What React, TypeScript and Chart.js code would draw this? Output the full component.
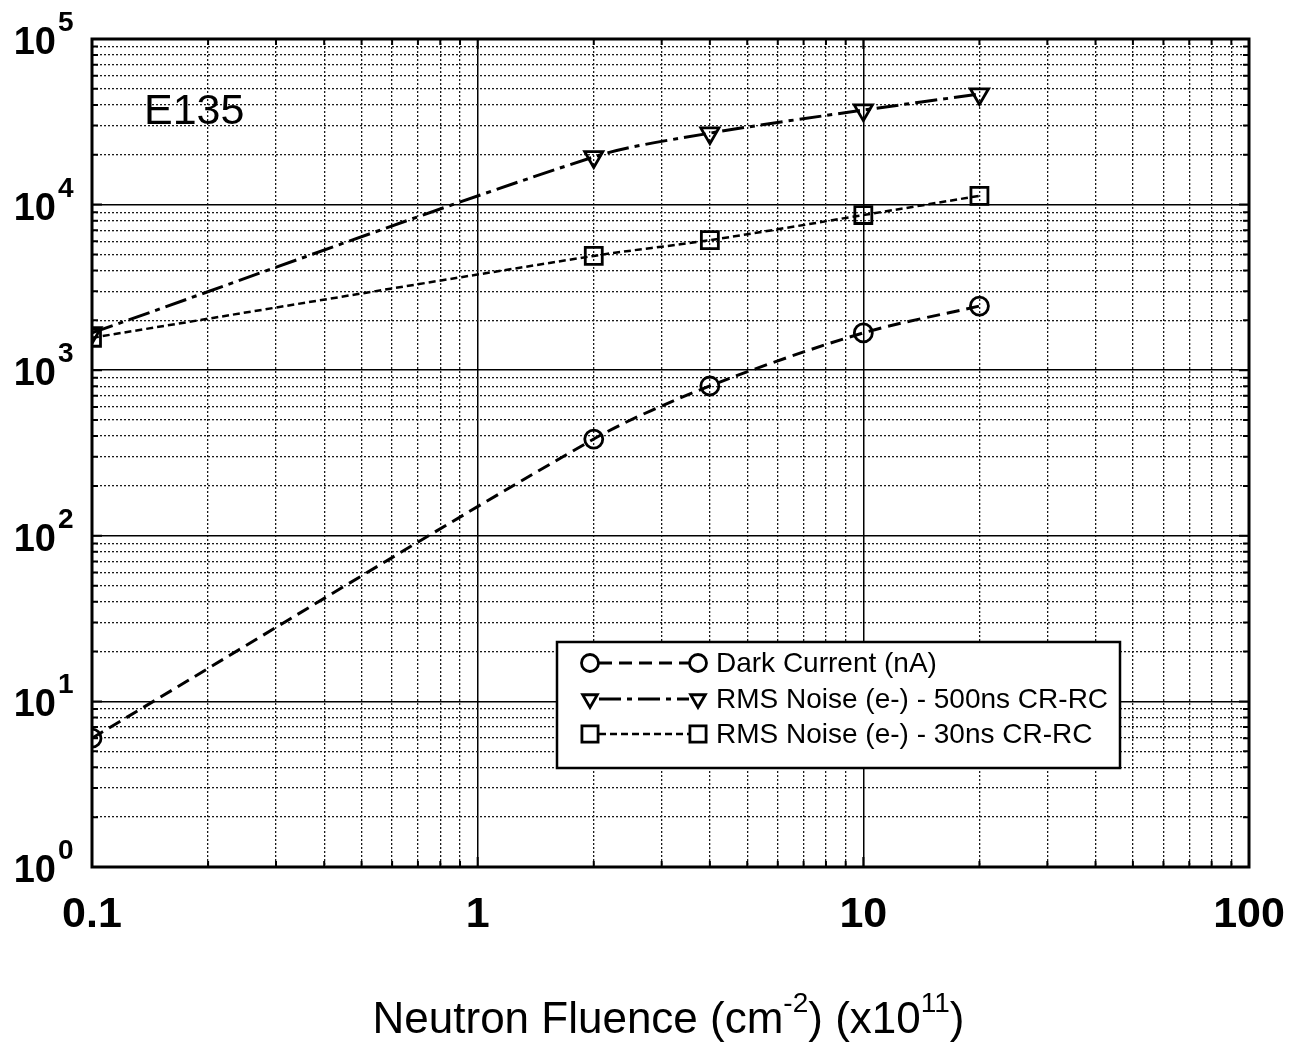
import { useEffect, useRef } from "react";
import { Chart, registerables } from "chart.js";

Chart.register(...registerables);

// Neutron fluence in units of 1e11 cm^-2
const fluence = [0.1, 2, 4, 10, 20];
const darkCurrent = [6, 384, 803, 1680, 2440];
const noise500ns = [1680, 19400, 27000, 37200, 46500];
const noise30ns = [1570, 4900, 6100, 8650, 11300];

const seriesLabels = [
  "Dark Current (nA)",
  "RMS Noise (e-) - 500ns CR-RC",
  "RMS Noise (e-) - 30ns CR-RC",
];
const xDecades = [0.1, 1, 10, 100];
const xTickLabels = ["0.1", "1", "10", "100"];
const yExponents = [0, 1, 2, 3, 4, 5];
const sampleName = "E135";

const FONT = "'Liberation Sans', Arial, Helvetica, sans-serif";

function logTicks(minExp: number, maxExp: number) {
  const out: { value: number }[] = [];
  for (let e = minExp; e < maxExp; e++) {
    for (let m = 1; m < 10; m++) out.push({ value: m * Math.pow(10, e) });
  }
  out.push({ value: Math.pow(10, maxExp) });
  return out;
}

function isDecade(v: number) {
  const l = Math.log10(v);
  return Math.abs(l - Math.round(l)) < 1e-9;
}

type Part = { text: string; sup?: boolean };

// draws a run of text with optional superscript pieces
function drawRich(
  ctx: CanvasRenderingContext2D,
  parts: Part[],
  x: number,
  y: number,
  align: "left" | "center",
  mainFont: string,
  supFont: string,
  supRise: number
) {
  ctx.textAlign = "left";
  ctx.textBaseline = "alphabetic";
  let total = 0;
  for (const p of parts) {
    ctx.font = p.sup ? supFont : mainFont;
    total += ctx.measureText(p.text).width;
  }
  let cx = align === "center" ? x - total / 2 : x;
  for (const p of parts) {
    ctx.font = p.sup ? supFont : mainFont;
    ctx.fillText(p.text, cx, p.sup ? y - supRise : y);
    cx += ctx.measureText(p.text).width;
  }
}

function drawMarker(
  ctx: CanvasRenderingContext2D,
  style: string,
  x: number,
  y: number,
  r: number
) {
  ctx.beginPath();
  if (style === "circle") {
    ctx.arc(x, y, r, 0, Math.PI * 2);
  } else if (style === "triangle") {
    // apex pointing down
    const h = r * 1.5;
    const w = r * 1.732;
    ctx.moveTo(x - w / 2, y - h / 3);
    ctx.lineTo(x + w / 2, y - h / 3);
    ctx.lineTo(x, y + (2 * h) / 3);
    ctx.closePath();
  } else {
    ctx.rect(x - r * 0.95, y - r * 0.95, r * 1.9, r * 1.9);
  }
  ctx.stroke();
}

const frameAndText = {
  id: "frameAndText",
  afterDraw(chart: any) {
    const ctx: CanvasRenderingContext2D = chart.ctx;
    const { left, right, top, bottom } = chart.chartArea;
    const xs = chart.scales.x;
    const ys = chart.scales.y;
    ctx.save();
    ctx.fillStyle = "#000";
    ctx.strokeStyle = "#000";

    // inward tick marks on the frame
    ctx.lineWidth = 2;
    ctx.setLineDash([]);
    for (const t of ys.ticks) {
      const py = ys.getPixelForValue(t.value);
      const len = isDecade(t.value) ? 10 : 6;
      ctx.beginPath();
      ctx.moveTo(left, py);
      ctx.lineTo(left + len, py);
      ctx.moveTo(right, py);
      ctx.lineTo(right - len, py);
      ctx.stroke();
    }
    for (const t of xs.ticks) {
      const px = xs.getPixelForValue(t.value);
      const len = isDecade(t.value) ? 10 : 6;
      ctx.beginPath();
      ctx.moveTo(px, bottom);
      ctx.lineTo(px, bottom - len);
      ctx.moveTo(px, top);
      ctx.lineTo(px, top + len);
      ctx.stroke();
    }

    // frame
    ctx.lineWidth = 3;
    ctx.strokeRect(left, top, right - left, bottom - top);

    // y tick labels 10^n
    for (const e of yExponents) {
      const py = ys.getPixelForValue(Math.pow(10, e));
      ctx.font = `bold 38px ${FONT}`;
      ctx.textAlign = "right";
      ctx.textBaseline = "alphabetic";
      ctx.fillText("10", 56, py + 15);
      ctx.font = `bold 28px ${FONT}`;
      ctx.textAlign = "left";
      ctx.fillText(String(e), 58, py - 8);
    }

    // x tick labels
    ctx.font = `bold 43px ${FONT}`;
    ctx.textAlign = "center";
    ctx.textBaseline = "alphabetic";
    xDecades.forEach((v, i) => {
      ctx.fillText(xTickLabels[i], xs.getPixelForValue(v), bottom + 60);
    });

    // axis title
    drawRich(
      ctx,
      [
        { text: "Neutron Fluence (cm" },
        { text: "-2", sup: true },
        { text: ") (x10" },
        { text: "11", sup: true },
        { text: ")" },
      ],
      (left + right) / 2 - 2,
      1033,
      "center",
      `44px ${FONT}`,
      `28px ${FONT}`,
      21
    );

    // sample name
    ctx.font = `43px ${FONT}`;
    ctx.textAlign = "left";
    ctx.fillText(sampleName, 144, 124);

    // legend
    const bx = 557;
    const by = 642;
    const bw = 563;
    const bh = 126;
    ctx.fillStyle = "#fff";
    ctx.fillRect(bx, by, bw, bh);
    ctx.lineWidth = 2.5;
    ctx.strokeStyle = "#000";
    ctx.strokeRect(bx, by, bw, bh);
    const rows = [663, 699, 734];
    chart.data.datasets.forEach((ds: any, i: number) => {
      const ry = rows[i];
      const x0 = 590;
      const x1 = 698;
      ctx.lineWidth = ds.borderWidth;
      ctx.setLineDash(ds.borderDash);
      ctx.beginPath();
      ctx.moveTo(x0 + 9, ry);
      ctx.lineTo(x1 - 9, ry);
      ctx.stroke();
      ctx.setLineDash([]);
      ctx.lineWidth = 2.8;
      drawMarker(ctx, ds.markerShape, x0, ry, 8.5);
      drawMarker(ctx, ds.markerShape, x1, ry, 8.5);
      ctx.fillStyle = "#000";
      ctx.font = `28px ${FONT}`;
      ctx.textAlign = "left";
      ctx.textBaseline = "middle";
      ctx.fillText(ds.label, 716, ry + 1);
    });
    ctx.restore();
  },
};

export default function App() {
  const ref = useRef<HTMLCanvasElement | null>(null);

  useEffect(() => {
    if (!ref.current) return;
    const gridColor = (c: any) => (c.tick && isDecade(c.tick.value) ? "#000" : "#1a1a1a");
    const gridWidth = (c: any) => (c.tick && isDecade(c.tick.value) ? 1.5 : 1.3);
    const gridDash = (c: any) => (c.tick && !isDecade(c.tick.value) ? [2, 2] : []);
    const common = {
      pointBackgroundColor: "rgba(0,0,0,0)",
      pointBorderColor: "#000",
      pointBorderWidth: 2.8,
      borderColor: "#000",
      fill: false,
      tension: 0.3,
    };
    const chart = new Chart(ref.current, {
      type: "line",
      data: {
        labels: fluence,
        datasets: [
          {
            ...common,
            label: seriesLabels[0],
            data: fluence.map((x, i) => ({ x, y: darkCurrent[i] })),
            borderWidth: 3,
            borderDash: [13, 7],
            pointStyle: "circle",
            pointRadius: 9,
            markerShape: "circle",
          } as any,
          {
            ...common,
            label: seriesLabels[1],
            data: fluence.map((x, i) => ({ x, y: noise500ns[i] })),
            borderWidth: 3,
            borderDash: [22, 6, 5, 6],
            pointStyle: "triangle",
            pointRotation: 180,
            pointRadius: 10.5,
            markerShape: "triangle",
          } as any,
          {
            ...common,
            label: seriesLabels[2],
            data: fluence.map((x, i) => ({ x, y: noise30ns[i] })),
            borderWidth: 2.5,
            borderDash: [7, 4],
            pointStyle: "rect",
            pointRadius: 12,
            markerShape: "rect",
          } as any,
        ],
      },
      options: {
        responsive: false,
        animation: false,
        layout: { padding: { left: 92, top: 39, right: 41, bottom: 183 } },
        plugins: { legend: { display: false }, title: { display: false }, tooltip: { enabled: false } },
        scales: {
          x: {
            type: "logarithmic",
            min: 0.1,
            max: 100,
            afterBuildTicks: (s: any) => {
              s.ticks = logTicks(-1, 2);
            },
            afterFit: (s: any) => {
              s.height = 0;
            },
            ticks: { display: false },
            grid: { drawTicks: false, color: gridColor, lineWidth: gridWidth },
            border: { display: false, dash: gridDash },
          },
          y: {
            type: "logarithmic",
            min: 1,
            max: 100000,
            afterBuildTicks: (s: any) => {
              s.ticks = logTicks(0, 5);
            },
            afterFit: (s: any) => {
              s.width = 0;
            },
            ticks: { display: false },
            grid: { drawTicks: false, color: gridColor, lineWidth: gridWidth },
            border: { display: false, dash: gridDash },
          },
        },
      } as any,
      plugins: [frameAndText],
    });
    return () => chart.destroy();
  }, []);

  return (
    <div style={{ position: "absolute", left: 0, top: 0, width: 1290, height: 1050, background: "#fff" }}>
      <canvas ref={ref} width={1290} height={1050} style={{ display: "block" }} />
    </div>
  );
}
